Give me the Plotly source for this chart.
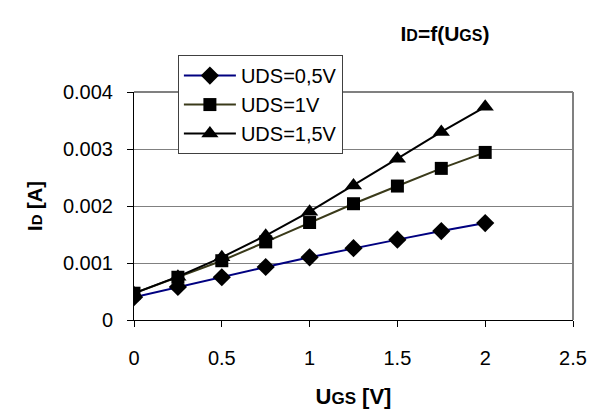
import plotly.graph_objects as go

ugs = [0, 0.25, 0.5, 0.75, 1.0, 1.25, 1.5, 1.75, 2.0]
id_05 = [0.00040, 0.00058, 0.00075, 0.00093, 0.00110, 0.00126, 0.00141, 0.00156, 0.00170]
id_10 = [0.00047, 0.00075, 0.00104, 0.00137, 0.00171, 0.00204, 0.00235, 0.00266, 0.00294]
id_15 = [0.00047, 0.00076, 0.00110, 0.00148, 0.00190, 0.00236, 0.00283, 0.00330, 0.00374]
names = ["UDS=0,5V", "UDS=1V", "UDS=1,5V"]
line_colors = ["#000080", "#3a3a1a", "#000000"]
symbols = ["diamond", "square", "triangle-up"]
sizes = [14, 13, 15]

FONT = "Liberation Sans, Arial, sans-serif"

fig = go.Figure()
for ys, nm, c, s, sz in zip([id_05, id_10, id_15], names, line_colors, symbols, sizes):
    fig.add_trace(go.Scatter(
        x=ugs, y=ys, name=nm, mode="lines+markers",
        line=dict(color=c, width=2),
        marker=dict(symbol=s, size=sz, color="black", line=dict(width=0)),
    ))

fig.update_layout(
    width=600, height=412,
    margin=dict(l=134, r=27, t=92, b=92, autoexpand=False),
    paper_bgcolor="white", plot_bgcolor="white",
    font=dict(family=FONT, size=20, color="black"),
    title=dict(
        text="<b>I<span style='font-size:16px'>D</span>=f(U<span style='font-size:16px'>GS</span>)</b>",
        x=445/600, xanchor="center", y=1-34/412, yanchor="middle",
        font=dict(family=FONT, size=21, color="black"),
    ),
    showlegend=True,
    legend=dict(
        x=0.1, y=1.162, xanchor="left", yanchor="top",
        bgcolor="white", bordercolor="#404040", borderwidth=1,
        font=dict(family=FONT, size=20, color="black"),
        tracegroupgap=0, itemwidth=52,
    ),
    xaxis=dict(
        range=[0, 2.5], dtick=0.5, tick0=0, automargin=False,
        showgrid=False, zeroline=False,
        showline=True, linecolor="black", linewidth=1, mirror=False,
        ticks="outside", ticklen=6, tickcolor="black", ticklabelstandoff=14,
        tickfont=dict(size=20),
        title=dict(text="<b>U<span style='font-size:17px'>GS</span> [V]</b>", standoff=20,
                   font=dict(family=FONT, size=22)),
    ),
    yaxis=dict(
        range=[0, 0.004], dtick=0.001, tick0=0, automargin=False,
        showgrid=True, gridcolor="#808080", gridwidth=1,
        zeroline=False, exponentformat="none",
        showline=True, linecolor="black", linewidth=1,
        ticks="outside", ticklen=6, tickcolor="black", ticklabelstandoff=10,
        tickfont=dict(size=20),
        title=dict(text="<b>I<span style='font-size:15px'>D</span> [A]</b>", standoff=14,
                   font=dict(family=FONT, size=20)),
    ),
)

# gray plot-area border on top and right
fig.add_shape(type="line", xref="paper", yref="paper", x0=0, x1=1, y0=1, y1=1,
              line=dict(color="#808080", width=2))
fig.add_shape(type="line", xref="paper", yref="paper", x0=1, x1=1, y0=0, y1=1,
              line=dict(color="#808080", width=2))

fig.write_html("out.html")
